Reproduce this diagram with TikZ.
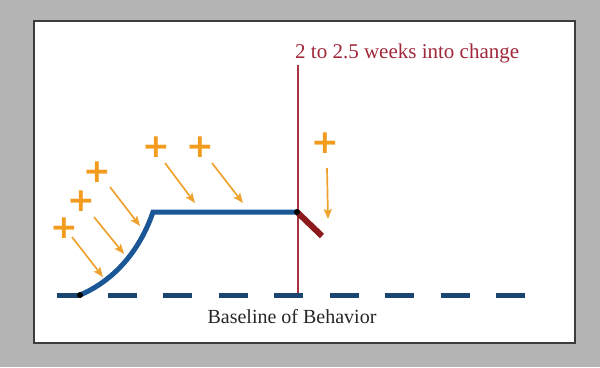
\documentclass[tikz,border=0pt]{standalone}
\usepackage{fontspec}
\setmainfont{Liberation Serif}
\newfontfamily\plusfont{DejaVu Sans}[BoldFont={DejaVu Sans Bold}]
\usetikzlibrary{arrows.meta}
\definecolor{panelgrey}{HTML}{B4B4B4}
\definecolor{framedark}{HTML}{3C3C3C}
\definecolor{curveblue}{HTML}{1B5796}
\definecolor{dashblue}{HTML}{1C4672}
\definecolor{markred}{HTML}{A8323F}
\definecolor{labelred}{HTML}{A0283A}
\definecolor{dropred}{HTML}{8C1A1C}
\definecolor{plusorange}{HTML}{F29B1D}
\definecolor{pushorange}{HTML}{F0A22E}
\begin{document}
\begin{tikzpicture}[x=1pt, y=-1pt,
    plus/.style={text=plusorange, font=\plusfont\bfseries\fontsize{33}{33}\selectfont, inner sep=0pt},
    push/.style={draw=pushorange, line width=1.7pt, -{Stealth[length=10pt, width=8pt, inset=2pt]}},
    dot/.style={fill=black}]
            % panel
            \fill[panelgrey] (0,0) rectangle (600,367);
            \draw[framedark, line width=2.5pt, fill=white] (34,21) rectangle (575,343);
            \useasboundingbox (0,0) rectangle (600,367);

            % marker line and label
            \coordinate (marktop) at (298,65);
            \coordinate (markbot) at (298,295);
            \draw[markred, line width=1.6pt] (marktop) -- (markbot);
            \node[anchor=base west, inner sep=0pt, text=labelred, font=\fontsize{21}{24}\selectfont] (change) at (295,58) {2 to 2.5 weeks into change};

            % baseline
            \coordinate (basel) at (57,295);
            \coordinate (baser) at (525,295);
            \draw[dashblue, line width=5pt, dash pattern=on 29pt off 26.5pt, dash phase=5pt] (basel) -- (baser);
            \node[anchor=base, inner sep=0pt, text=black!85, font=\fontsize{20}{24}\selectfont] (baselabel) at (292,323) {Baseline of Behavior};

            % behaviour curve
            \coordinate (start) at (80,295);
            \coordinate (knee) at (153,212);
            \coordinate (peak) at (297,212);
            \coordinate (drop) at (322,236);
            \draw[curveblue, line width=5pt, line join=miter] (start) .. controls (115,280) and (140,250) .. (knee) -- (peak);
            \draw[dropred, line width=6pt] (peak) -- (drop);
            \fill[dot] (start) circle (3);
            \fill[dot] (peak) circle (3);

            % pluses
            \node[plus] (p1) at (64,228) {+};
            \node[plus] (p2) at (81,201) {+};
            \node[plus] (p3) at (97,172) {+};
            \node[plus] (p4) at (156,147) {+};
            \node[plus] (p5) at (200,147) {+};
            \node[plus] (p6) at (325,143) {+};

            % pushes
            \coordinate (a1) at (72,237);  \coordinate (b1) at (103,277);
            \coordinate (a2) at (94,217);  \coordinate (b2) at (124,254);
            \coordinate (a3) at (110,187); \coordinate (b3) at (140,226);
            \coordinate (a4) at (165,163); \coordinate (b4) at (195,203);
            \coordinate (a5) at (212,163); \coordinate (b5) at (243,203);
            \coordinate (a6) at (327,168); \coordinate (b6) at (328,219);
            \draw[push] (a1) -- (b1);
            \draw[push] (a2) -- (b2);
            \draw[push] (a3) -- (b3);
            \draw[push] (a4) -- (b4);
            \draw[push] (a5) -- (b5);
            \draw[push] (a6) -- (b6);
        \end{tikzpicture}
\end{document}
